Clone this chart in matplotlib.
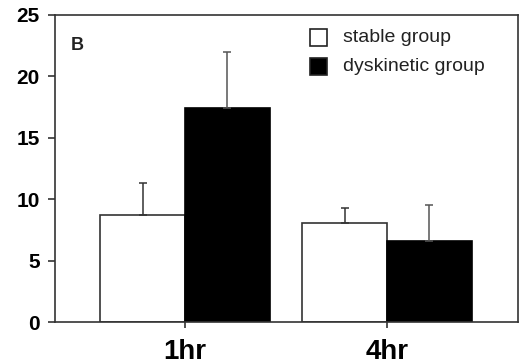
import numpy as np
import matplotlib.pyplot as plt
from matplotlib.patches import Rectangle

plt.rcParams['font.family'] = ['Liberation Sans', 'DejaVu Sans']

# mean values and upper error bars per time point
timepoints = ["1hr", "4hr"]
stableMean = [8.7, 8.1]
stableErr = [2.6, 1.2]
dyskineticMean = [17.4, 6.6]
dyskineticErr = [4.6, 2.9]
groupNames = ["stable group", "dyskinetic group"]

barWidth = 0.42
x = np.arange(len(timepoints))

fig = plt.figure(figsize=(5.2, 3.64), dpi=100)
ax = fig.add_axes([55/520, 1-322/364, 463/520, 307/364])

#bars, stable left of tick and dyskinetic right of tick
ax.bar(x - barWidth/2, stableMean, barWidth, color='white', edgecolor='#333333', linewidth=1.2)
ax.bar(x + barWidth/2, dyskineticMean, barWidth, color='black', edgecolor='black', linewidth=1.2)

#upper half error bars only
ax.errorbar(x - barWidth/2, stableMean, yerr=[np.zeros(2), stableErr], fmt='none',
            ecolor='#333333', elinewidth=1.1, capsize=3, capthick=1.1)
ax.errorbar(x + barWidth/2, dyskineticMean, yerr=[np.zeros(2), dyskineticErr], fmt='none',
            ecolor='#555555', elinewidth=1.1, capsize=3, capthick=1.1)

ax.set_xlim(-0.644, 1.649)
ax.set_ylim(0, 25)
ax.set_yticks([0, 5, 10, 15, 20, 25])
ax.set_xticks(x)
ax.set_xticklabels(timepoints, fontsize=20, fontweight='bold')
for lbl in ax.get_yticklabels():
    lbl.set_fontsize(15)
    lbl.set_fontweight('bold')
ax.tick_params(axis='y', direction='out', length=5, width=1.2, pad=6, color='#333333')
ax.tick_params(axis='x', direction='out', length=4, width=1.2, pad=8, color='#333333')
for side in ['left', 'bottom', 'top', 'right']:
    ax.spines[side].set_linewidth(1.2)
    ax.spines[side].set_color('#333333')

ax.text(0.033, 0.885, "B", transform=ax.transAxes, fontsize=13, fontweight='bold', color='#222222')

#legend squares and labels
legendColors = ['white', 'black']
legendBottom = [0.899, 0.805]
for name, col, lb in zip(groupNames, legendColors, legendBottom):
    ax.add_patch(Rectangle((0.551, lb), 0.0367, 0.056, transform=ax.transAxes,
                           facecolor=col, edgecolor='#222222', linewidth=1.2, clip_on=False))
    ax.text(0.622, lb + 0.028, name, transform=ax.transAxes, fontsize=14, va='center', color='#222222')

fig.savefig("out.png", dpi=100)
